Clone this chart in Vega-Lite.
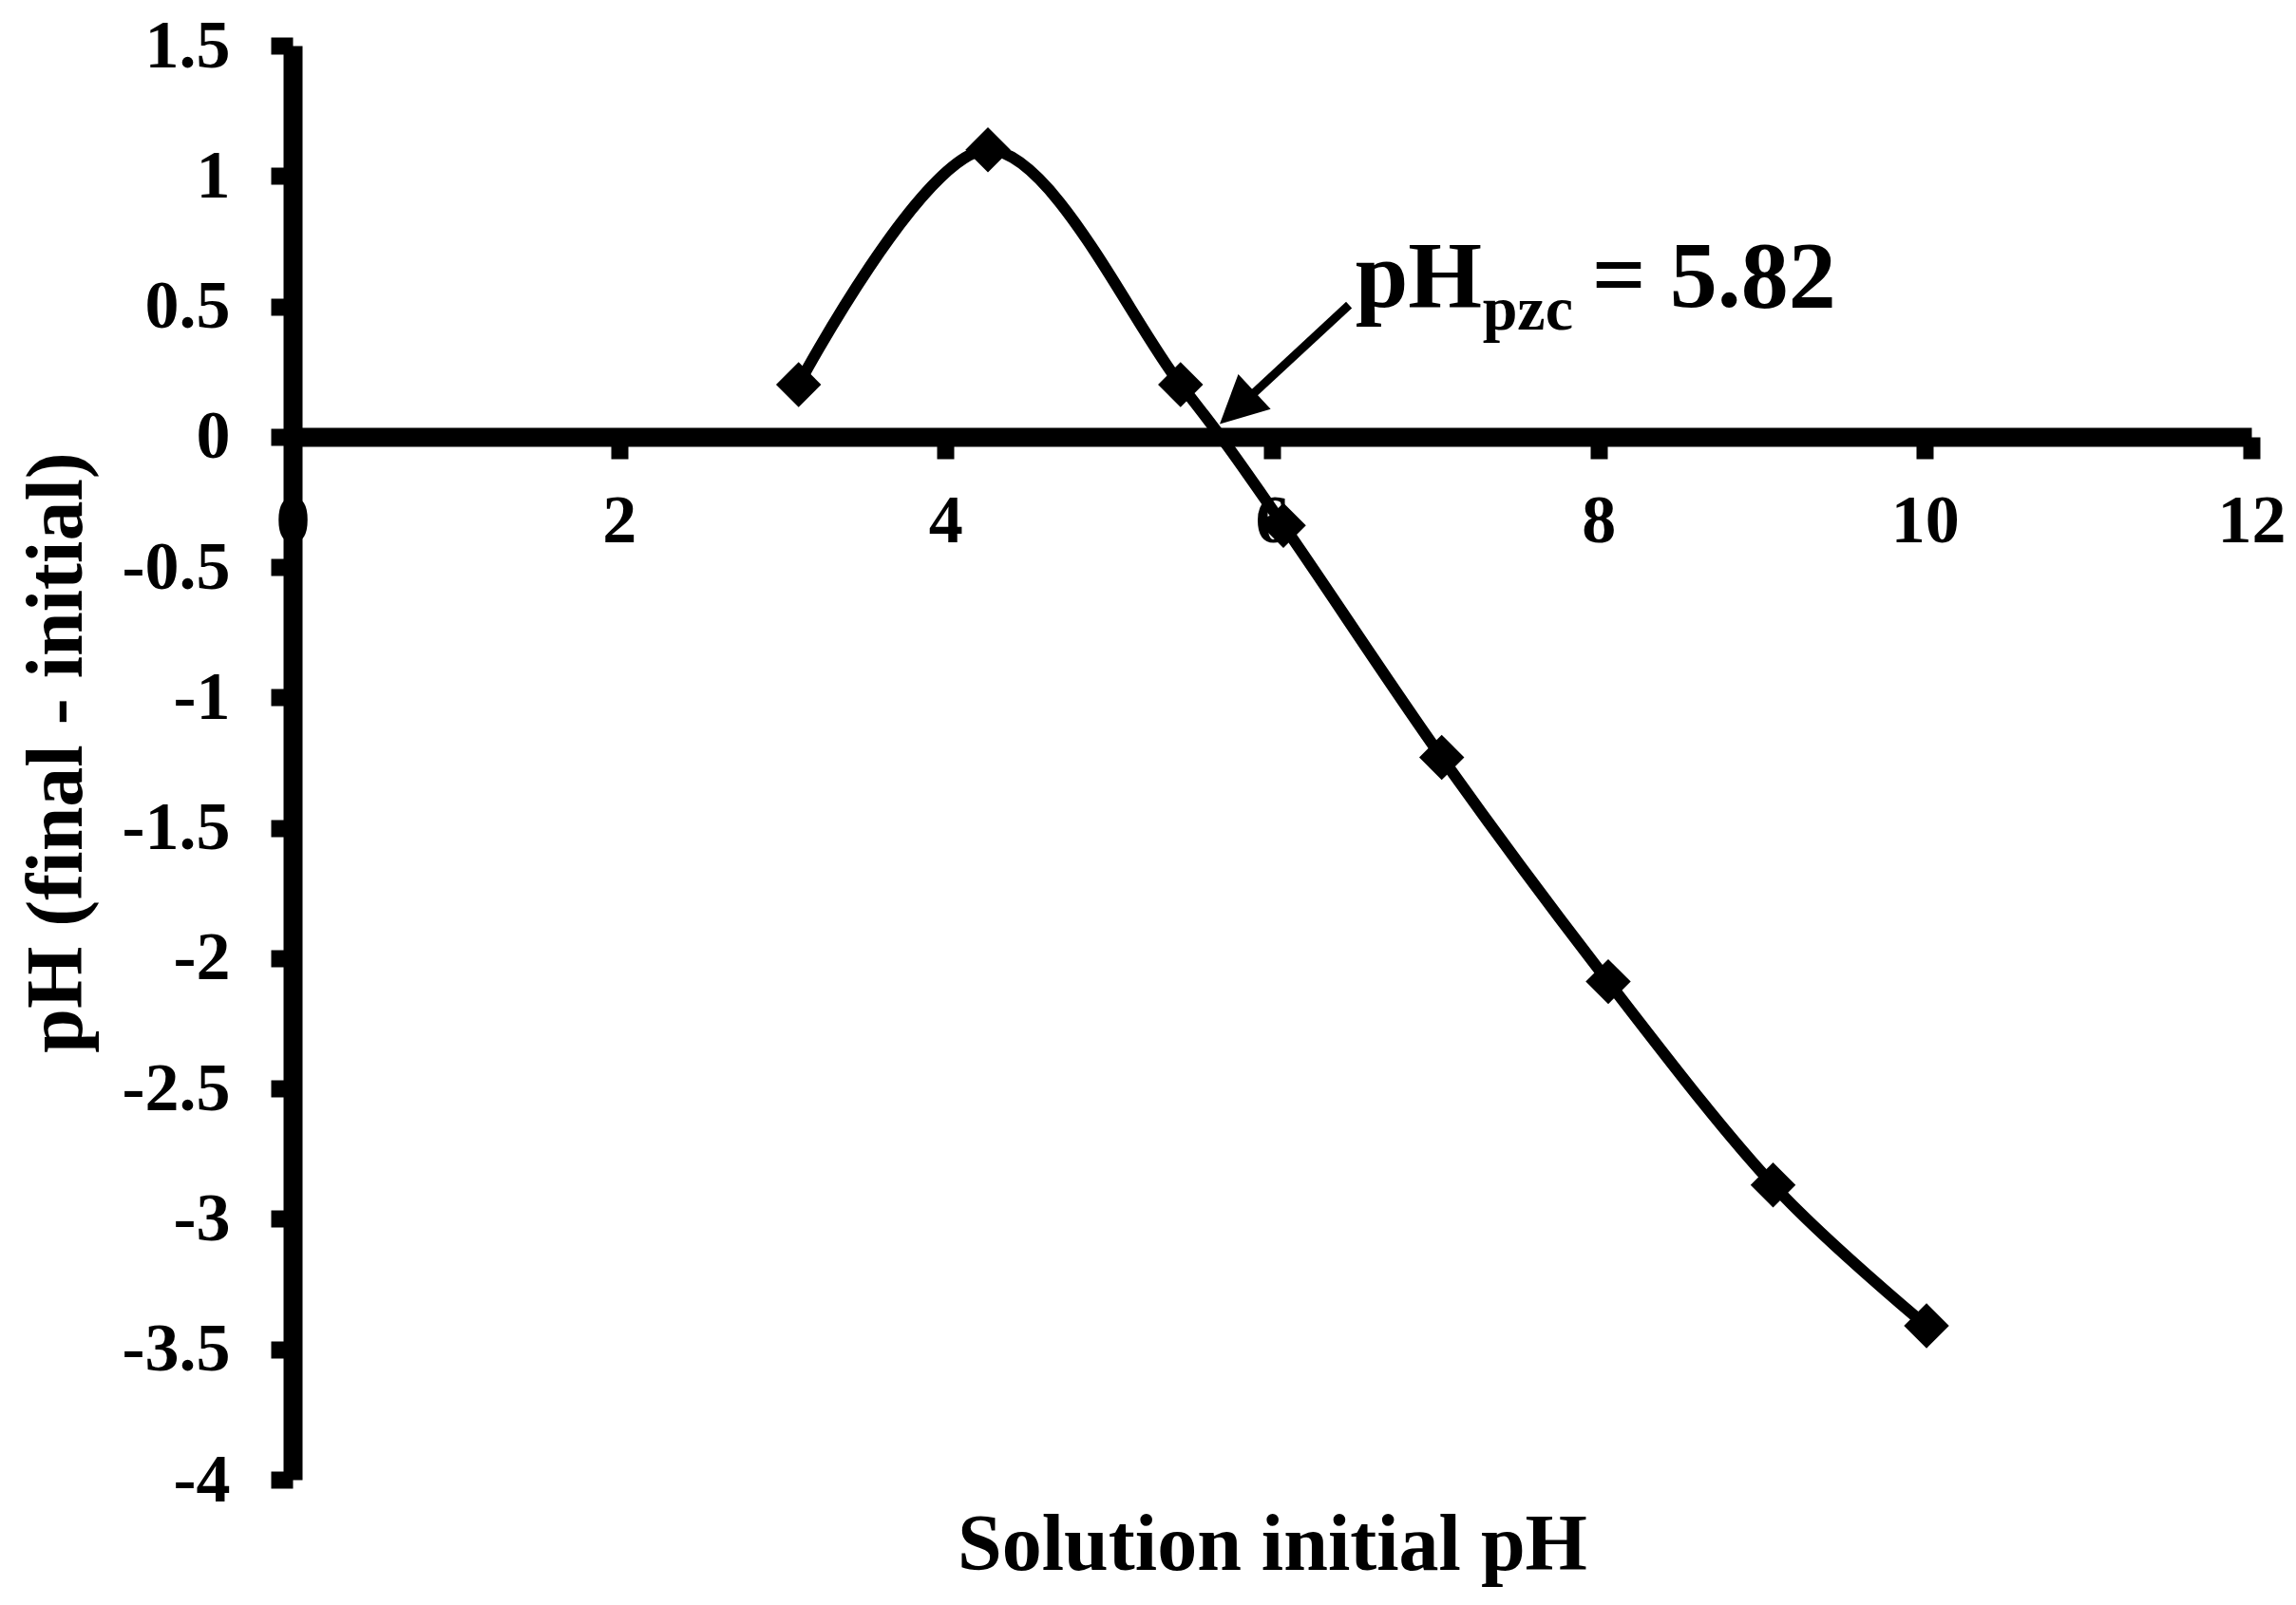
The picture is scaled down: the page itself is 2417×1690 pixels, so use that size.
{
  "$schema": "https://vega.github.io/schema/vega-lite/v6.json",
  "width": 2062,
  "height": 1510,
  "autosize": {"type": "none"},
  "padding": {"left": 308, "top": 48, "right": 47, "bottom": 132},
  "background": "white",
  "config": {"view": {"stroke": null}, "font": "Liberation Serif"},
  "datasets": {
    "points": [
      {"x": 3.10, "y": 0.20},
      {"x": 4.26, "y": 1.10},
      {"x": 5.44, "y": 0.20},
      {"x": 6.07, "y": -0.34},
      {"x": 7.04, "y": -1.23},
      {"x": 8.06, "y": -2.09},
      {"x": 9.07, "y": -2.87},
      {"x": 10.01, "y": -3.41}
    ],
    "arrow": [{"x": 6.472, "y": 0.505, "x2": 5.834, "y2": 0.135}],
    "tip": [{"x": 5.68, "y": 0.0485}],
    "big": [
      {"x": 6.51, "y": 0.499, "t": "pH"},
      {"x": 7.96, "y": 0.499, "t": "= 5.82"}
    ],
    "sub": [{"x": 7.29, "y": 0.412, "t": "pzc"}]
  },
  "layer": [
    {
      "data": {"name": "points"},
      "mark": {"type": "line", "interpolate": "cardinal", "color": "black", "strokeWidth": 12},
      "encoding": {
        "x": {
          "field": "x", "type": "quantitative",
          "scale": {"domain": [0, 12], "nice": false, "zero": false},
          "axis": {
            "title": "Solution initial pH",
            "values": [0, 2, 4, 6, 8, 10, 12],
            "format": "d",
            "offset": -1098,
            "grid": false,
            "domainColor": "black", "domainWidth": 20, "domainCap": "butt",
            "tickColor": "black", "tickSize": 23, "tickWidth": 18,
            "labelFont": "Liberation Serif", "labelFontWeight": "bold", "labelFontSize": 72, "labelColor": "black",
            "labelPadding": 30, "labelFlush": false, "labelOverlap": false,
            "titleFont": "Liberation Serif", "titleFontWeight": "bold", "titleFontSize": 84, "titleColor": "black",
            "titleX": 1031, "titleY": 1192, "titleBaseline": "alphabetic", "titleAlign": "center",
            "zindex": 0
          }
        },
        "y": {
          "field": "y", "type": "quantitative",
          "scale": {"domain": [-4, 1.5], "nice": false, "zero": false},
          "axis": {
            "title": "pH (final - initial)",
            "values": [1.5, 1, 0.5, 0, -0.5, -1, -1.5, -2, -2.5, -3, -3.5, -4],
            "labelExpr": "'' + datum.value",
            "grid": false,
            "domainColor": "black", "domainWidth": 20, "domainCap": "butt",
            "tickColor": "black", "tickSize": 23, "tickWidth": 18,
            "labelFont": "Liberation Serif", "labelFontWeight": "bold", "labelFontSize": 72, "labelColor": "black",
            "labelPadding": 43, "labelFlush": false, "labelOverlap": false,
            "titleFont": "Liberation Serif", "titleFontWeight": "bold", "titleFontSize": 84, "titleColor": "black",
            "titleX": -223, "titleY": 744, "titleBaseline": "alphabetic", "titleAlign": "center", "titleAngle": -90,
            "zindex": 1
          }
        }
      }
    },
    {
      "data": {"name": "points"},
      "mark": {"type": "point", "shape": "diamond", "filled": true, "color": "black", "opacity": 1, "size": 2250, "strokeWidth": 0},
      "encoding": {
        "x": {"field": "x", "type": "quantitative"},
        "y": {"field": "y", "type": "quantitative"}
      }
    },
    {
      "data": {"name": "arrow"},
      "mark": {"type": "rule", "color": "black", "strokeWidth": 9, "strokeCap": "butt"},
      "encoding": {
        "x": {"field": "x", "type": "quantitative"},
        "y": {"field": "y", "type": "quantitative"},
        "x2": {"field": "x2"},
        "y2": {"field": "y2"}
      }
    },
    {
      "data": {"name": "tip"},
      "mark": {"type": "point", "shape": "M0,0L0.5,1L-0.5,1Z", "filled": true, "color": "black", "opacity": 1, "size": 10000, "angle": 227, "strokeWidth": 0},
      "encoding": {
        "x": {"field": "x", "type": "quantitative"},
        "y": {"field": "y", "type": "quantitative"}
      }
    },
    {
      "data": {"name": "big"},
      "mark": {"type": "text", "font": "Liberation Serif", "fontWeight": "bold", "fontSize": 100, "align": "left", "baseline": "alphabetic", "color": "black"},
      "encoding": {
        "x": {"field": "x", "type": "quantitative"},
        "y": {"field": "y", "type": "quantitative"},
        "text": {"field": "t"}
      }
    },
    {
      "data": {"name": "sub"},
      "mark": {"type": "text", "font": "Liberation Serif", "fontWeight": "bold", "fontSize": 66, "align": "left", "baseline": "alphabetic", "color": "black"},
      "encoding": {
        "x": {"field": "x", "type": "quantitative"},
        "y": {"field": "y", "type": "quantitative"},
        "text": {"field": "t"}
      }
    }
  ]
}
